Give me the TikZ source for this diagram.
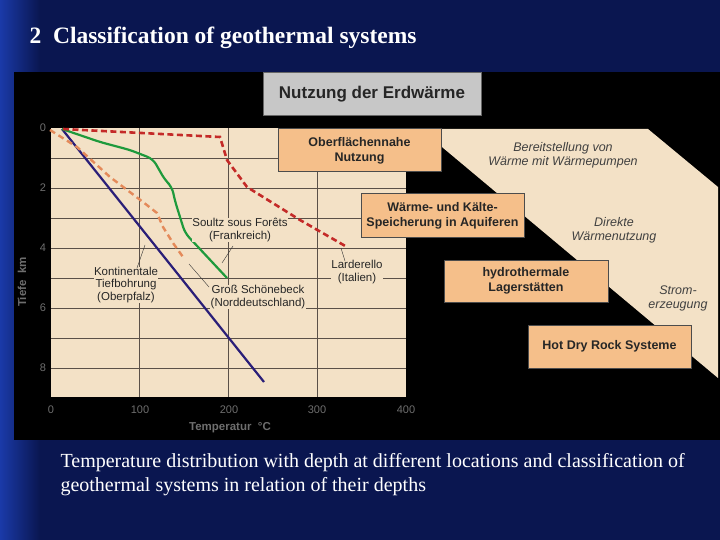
\documentclass[tikz,border=0pt]{standalone}
\usepackage{fontspec}
\setmainfont{Liberation Serif}
\newfontfamily\chartfont{Liberation Sans}
\definecolor{bgnavy}{HTML}{0A1650}
\definecolor{bgblue}{HTML}{1A3AA8}
\definecolor{beige}{HTML}{F3E1C6}
\definecolor{boxor}{HTML}{F5BF8A}
\definecolor{gridc}{HTML}{5A5048}
\definecolor{axc}{HTML}{6E6E6E}
\definecolor{navyc}{HTML}{2A1E78}
\definecolor{greenc}{HTML}{1E9A3C}
\definecolor{orc}{HTML}{E48A5A}
\definecolor{redc}{HTML}{C42A28}
\begin{document}
\begin{tikzpicture}[x=1pt,y=-1pt,
  lbl/.style={font=\chartfont\fontsize{11.5}{12.5}\selectfont,align=center,fill=beige,inner sep=0.5pt,text=black!85},
  ubox/.style={draw=black!70,line width=1pt,fill=boxor,font=\chartfont\bfseries\fontsize{12.5}{15}\selectfont,align=center,inner sep=0pt,text=black!85},
  ital/.style={font=\chartfont\itshape\fontsize{12.5}{14}\selectfont,align=center,text=black!75},
  axl/.style={font=\chartfont\fontsize{11}{12}\selectfont,text=axc},
  leader/.style={draw=black!80,line width=0.4pt}]
\useasboundingbox (0,0) rectangle (720,540);
\fill[bgnavy] (0,0) rectangle (720,540);
\shade[left color=bgblue,right color=bgnavy] (0,0) rectangle (40,540);
\fill[black] (14,72) rectangle (720,440);
% beige regions
\fill[beige] (50,128) rectangle (406,398);
\fill[beige] (420,129) -- (648,129) -- (718,187) -- (718,378) -- (430,137) -- cycle;
% grid
\foreach \y in {158,188,218,248,278,308,338,368}
  \draw[gridc,line width=0.5pt] (50,\y) -- (406,\y);
\foreach \x in {139,228,317}
  \draw[gridc,line width=0.5pt] (\x,128) -- (\x,398);
\draw[black,line width=1.2pt] (50,128) -- (50,398) -- (406,398);
% axis labels
\foreach \v/\y in {0/128,2/188,4/248,6/308,8/368} \node[axl] (d\v) at (43,\y) {\v};
\foreach \v/\x in {0/51,100/140,200/229,300/317,400/406} \node[axl] (t\v) at (\x,410) {\v};
\node[axl,font=\chartfont\bfseries\fontsize{11.5}{12}\selectfont] (tl) at (230,428) {Temperatur\ \ °C};
\node[axl,rotate=90,font=\chartfont\bfseries\fontsize{11.5}{12}\selectfont] (dl) at (22,282) {Tiefe\ \ km};
% curves
\draw[navyc,line width=2.2pt] (62,129) -- (264,382);
\draw[greenc,line width=2.2pt,rounded corners=6pt] (62,129) -- (100,142) -- (130,150) -- (153,159) -- (165,180) -- (172,187) -- (175,201) -- (185,233) -- (227,278);
\draw[orc,line width=2.4pt,dash pattern=on 6pt off 4pt] (50,130) -- (77,147) -- (110,177) -- (143,202) -- (157,213) -- (163,227) -- (173,243) -- (183,257);
\draw[redc,line width=2.6pt,dash pattern=on 6pt off 3.5pt] (63,129) -- (220,137) -- (227,160) -- (247,187) -- (300,220) -- (347,247);
% labels
\node[lbl] (soultz) at (240,230) {Soultz sous Forêts\\(Frankreich)};
\node[lbl] (kont) at (126,285) {Kontinentale\\Tiefbohrung\\(Oberpfalz)};
\node[lbl] (gross) at (258,297) {Groß Schönebeck\\(Norddeutschland)};
\node[lbl] (lard) at (357,272) {Larderello\\(Italien)};
\coordinate (p1) at (222,263); \draw[leader] (233,246) -- (p1);
\coordinate (p2) at (145,245); \draw[leader] (137,268) -- (p2);
\coordinate (p3) at (189,264); \draw[leader] (209,287) -- (p3);
\coordinate (p4) at (341,248); \draw[leader] (345,261) -- (p4);
% boxes
\node[draw=black!60,line width=1pt,fill=black!22,minimum width=218pt,minimum height=43pt,font=\chartfont\bfseries\fontsize{17}{19}\selectfont,text=black!85] (title) at (372,94.5) {Nutzung der Erdwärme};
\node[ubox,minimum width=163pt,minimum height=43pt] (ob) at (359.5,150.5) {Oberflächennahe\\Nutzung};
\node[ubox,minimum width=163pt,minimum height=43pt] (wk) at (442.5,215.5) {Wärme- und Kälte-\\Speicherung in Aquiferen};
\node[ubox,minimum width=164pt,minimum height=42pt] (hy) at (526,281) {hydrothermale\\Lagerstätten};
\node[ubox,minimum width=163pt,minimum height=43pt] (hdr) at (609.5,346.5) {Hot Dry Rock Systeme};
\node[ital] (bw) at (563,155) {Bereitstellung von\\Wärme mit Wärmepumpen};
\node[ital] (dw) at (614,230) {Direkte\\Wärmenutzung};
\node[ital] (se) at (678,298) {Strom-\\erzeugung};
% slide text
\node[anchor=west,text=white,font=\fontsize{23.5}{25}\selectfont\bfseries] (hd) at (26,38) {2\ \ Classification of geothermal systems};
\node[anchor=north west,text=white,align=left,font=\fontsize{20}{24}\selectfont] (cap) at (57,450) {Temperature distribution with depth at different locations and classification of\\geothermal systems in relation of their depths};
\end{tikzpicture}
\end{document}
